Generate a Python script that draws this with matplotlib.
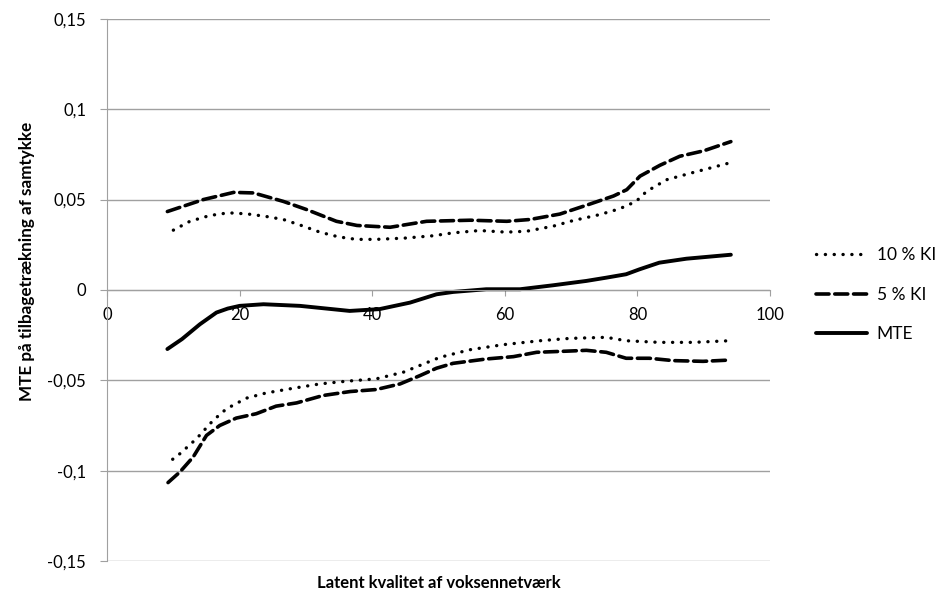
import matplotlib.pyplot as plt

plt.rcParams['font.family'] = ['Lato', 'DejaVu Sans']

# upper 10 % KI (dotted)
x_ki10_hi = [10.0, 12.5, 15.5, 18.3, 21.1, 23.8, 26.6, 29.3, 32.1, 34.9, 37.6, 40.6, 44.9, 49.2,
             52.2, 56.2, 60.2, 63.3, 67.3, 70.3, 74.3, 77.3, 79.8, 81.4, 84.4, 88.4, 93.9]
y_ki10_hi = [0.0331, 0.038, 0.0412, 0.0427, 0.0421, 0.0408, 0.039, 0.0357, 0.032, 0.0294, 0.028,
             0.028, 0.0287, 0.030, 0.0316, 0.0329, 0.032, 0.0325, 0.0353, 0.0384, 0.0417, 0.0449,
             0.049, 0.0546, 0.061, 0.065, 0.0703]

# upper 5 % KI (dashed)
x_ki5_hi = [9.1, 14.5, 19.1, 22.1, 26.6, 30.1, 34.6, 37.7, 42.7, 48.2, 54.8, 60.3, 63.8, 68.3,
            72.4, 76.4, 78.4, 80.4, 83.4, 86.4, 90.0, 94.1]
y_ki5_hi = [0.0434, 0.050, 0.054, 0.0537, 0.049, 0.0445, 0.038, 0.0357, 0.0347, 0.038, 0.0386,
            0.038, 0.039, 0.042, 0.047, 0.052, 0.0555, 0.063, 0.069, 0.074, 0.077, 0.0821]

# MTE (solid)
x_mte = [9.1, 11.3, 14.0, 16.5, 18.2, 20.0, 23.6, 29.1, 36.6, 41.1, 45.7, 49.7, 52.2, 57.2,
         62.3, 67.3, 72.3, 75.3, 78.3, 80.3, 83.3, 87.4, 94.1]
y_mte = [-0.0327, -0.0272, -0.019, -0.0125, -0.0103, -0.0088, -0.0079, -0.0088, -0.0116, -0.0106,
         -0.007, -0.0024, -0.0011, 0.0004, 0.0004, 0.0026, 0.005, 0.0068, 0.0087, 0.0114, 0.0151,
         0.0173, 0.0195]

# lower 10 % KI (dotted)
x_ki10_lo = [9.9, 11.0, 13.5, 16.0, 18.0, 21.0, 24.0, 27.6, 32.1, 36.1, 40.6, 44.7, 47.7, 50.2,
             54.7, 59.7, 65.3, 69.8, 75.3, 78.3, 83.3, 88.4, 93.9]
y_ki10_lo = [-0.0937, -0.0906, -0.0823, -0.0722, -0.0658, -0.0599, -0.057, -0.0547, -0.052,
             -0.0505, -0.0492, -0.0455, -0.041, -0.0373, -0.0331, -0.0303, -0.0281, -0.0268,
             -0.0262, -0.0281, -0.029, -0.029, -0.0281]

# lower 5 % KI (dashed)
x_ki5_lo = [9.2, 11.0, 13.0, 15.0, 17.0, 19.5, 22.5, 25.5, 28.6, 32.6, 36.7, 40.6, 44.2, 47.2,
            49.7, 52.2, 57.2, 61.3, 64.8, 69.8, 72.3, 75.3, 78.3, 81.8, 85.4, 89.9, 93.9]
y_ki5_lo = [-0.1066, -0.1007, -0.0924, -0.0805, -0.075, -0.0709, -0.0685, -0.0643, -0.0625,
            -0.0584, -0.0562, -0.0551, -0.052, -0.0474, -0.0433, -0.0406, -0.0382, -0.0369,
            -0.0345, -0.0338, -0.0334, -0.0345, -0.0378, -0.0378, -0.0391, -0.0395, -0.0388]

x_ticks = [0, 20, 40, 60, 80, 100]
y_ticks = [-0.15, -0.1, -0.05, 0, 0.05, 0.1, 0.15]
y_tick_labels = ['-0,15', '-0,1', '-0,05', '0', '0,05', '0,1', '0,15']

fig = plt.figure(figsize=(9.39, 5.97), dpi=100)
ax = fig.add_axes([0.114, 0.0603, 0.706, 0.908])

dot = dict(color='black', lw=2.4, linestyle=(0, (0.05, 2.6)), dash_capstyle='round')
dash = dict(color='black', lw=2.6, linestyle=(0, (3.6, 1.6)), dash_capstyle='round')

ax.plot(x_ki10_hi, y_ki10_hi, label='10 % KI', **dot)
ax.plot(x_ki10_lo, y_ki10_lo, **dot)
ax.plot(x_ki5_hi, y_ki5_hi, label='5 % KI', **dash)
ax.plot(x_ki5_lo, y_ki5_lo, **dash)
ax.plot(x_mte, y_mte, color='black', lw=2.8, label='MTE', solid_capstyle='round')

ax.set_xlim(0, 100)
ax.set_ylim(-0.15, 0.15)
ax.set_yticks(y_ticks)
ax.set_yticklabels(y_tick_labels)
ax.set_xticks(x_ticks)
ax.grid(axis='y', color='#a0a0a0', lw=1)
ax.set_axisbelow(True)

for s in ['top', 'right']:
    ax.spines[s].set_visible(False)
ax.spines['left'].set_color('#a0a0a0')
ax.spines['bottom'].set_position(('data', 0))
ax.spines['bottom'].set_color('#a0a0a0')

ax.tick_params(axis='y', length=5, color='#a0a0a0', labelsize=12, pad=10)
ax.tick_params(axis='x', length=4.5, color='#a0a0a0', labelsize=12, pad=8)

ax.set_xlabel('Latent kvalitet af voksennetværk', fontsize=12, fontweight='bold')
ax.xaxis.set_label_coords(0.5, -0.026)
ax.set_ylabel('MTE på tilbagetrækning af samtykke', fontsize=12.3, fontweight='bold')
ax.yaxis.set_label_coords(-0.109, 0.553)

ax.legend(loc='center left', bbox_to_anchor=(1.046, 0.491), frameon=False, fontsize=12.5,
          handlelength=2.94, labelspacing=1.35, handletextpad=0.55)

fig.savefig('out.png', dpi=100)
